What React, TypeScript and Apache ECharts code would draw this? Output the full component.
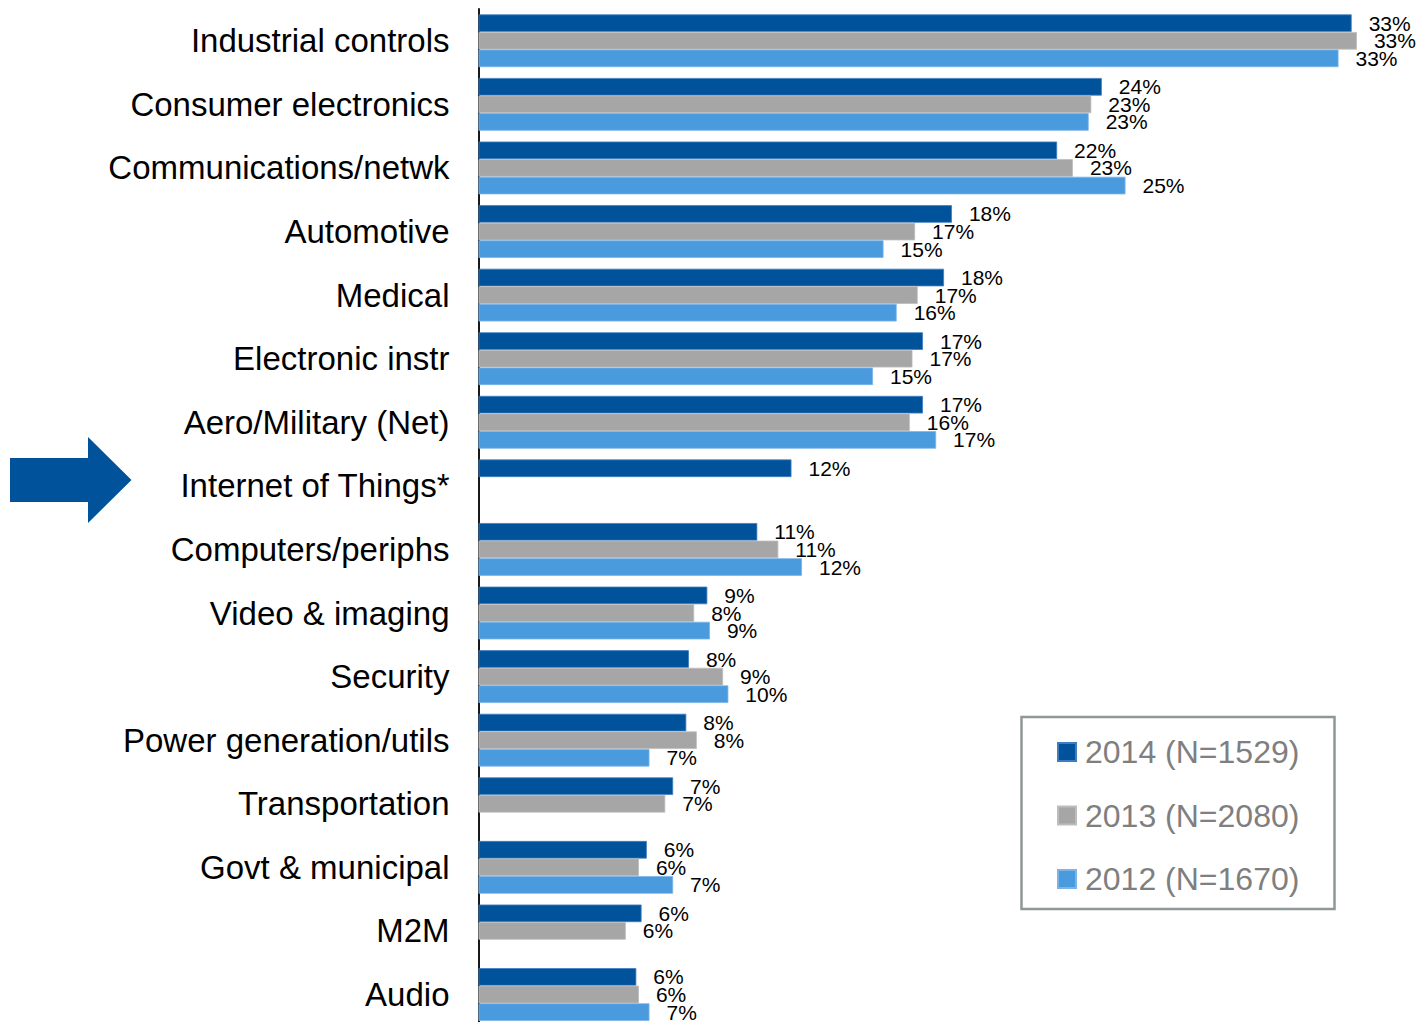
import React, { useEffect, useRef } from "react";
import * as echarts from "echarts";

// Application areas, listed top to bottom
const categories = [
  "Industrial controls",
  "Consumer electronics",
  "Communications/netwk",
  "Automotive",
  "Medical",
  "Electronic instr",
  "Aero/Military (Net)",
  "Internet of Things*",
  "Computers/periphs",
  "Video & imaging",
  "Security",
  "Power generation/utils",
  "Transportation",
  "Govt & municipal",
  "M2M",
  "Audio",
];

// Share of respondents (%) per survey year; null = not asked that year
const values2014 = [33.2, 23.7, 22.0, 18.0, 17.7, 16.9, 16.9, 11.9, 10.6, 8.7, 8.0, 7.9, 7.4, 6.4, 6.2, 6.0];
const values2013 = [33.4, 23.3, 22.6, 16.6, 16.7, 16.5, 16.4, null, 11.4, 8.2, 9.3, 8.3, 7.1, 6.1, 5.6, 6.1];
const values2012 = [32.7, 23.2, 24.6, 15.4, 15.9, 15.0, 17.4, null, 12.3, 8.8, 9.5, 6.5, null, 7.4, null, 6.5];

const seriesNames = ["2014 (N=1529)", "2013 (N=2080)", "2012 (N=1670)"];
const seriesColors = ["#00539b", "#a6a6a6", "#4a9ade"];
const seriesBorders = ["#3f7cc0", "#bdbdbd", "#7cb4e8"];

const FONT = "'Liberation Sans', Arial, sans-serif";

export default function App() {
  const ref = useRef<HTMLDivElement>(null);

  useEffect(() => {
    if (!ref.current) return;
    const chart = echarts.init(ref.current, null, { renderer: "svg" });
    const dataSets = [values2014, values2013, values2012];

    chart.setOption({
      animation: false,
      backgroundColor: "#ffffff",
      grid: {
        left: 478.5,
        top: 9,
        width: 920.5,
        height: 1017.3,
        containLabel: false,
        outerBoundsMode: "none",
      },
      xAxis: {
        type: "value",
        min: 0,
        max: 35,
        show: false,
        splitLine: { show: false },
      },
      yAxis: {
        type: "category",
        inverse: true,
        data: categories,
        axisTick: { show: false },
        axisLine: { show: true, lineStyle: { color: "#000000", width: 1.8 } },
        axisLabel: {
          color: "#000000",
          fontFamily: FONT,
          fontSize: 33,
          margin: 29,
        },
      },
      legend: {
        orient: "vertical",
        left: 1052,
        top: 729,
        itemWidth: 18,
        itemHeight: 18,
        itemGap: 27.5,
        icon: "rect",
        data: seriesNames,
        textStyle: {
          color: "#7f7f7f",
          fontFamily: FONT,
          fontSize: 32,
          lineHeight: 36,
          padding: [0, 0, 0, 4],
        },
      },
      graphic: [
        {
          type: "rect",
          z: 0,
          shape: { x: 1021.5, y: 717, width: 313, height: 192 },
          style: { fill: "#ffffff", stroke: "#8e9898", lineWidth: 2.5 },
        },
        {
          type: "polygon",
          shape: {
            points: [
              [10, 458],
              [88, 458],
              [88, 437],
              [131.5, 480],
              [88, 523],
              [88, 502],
              [10, 502],
            ],
          },
          style: { fill: "#00539b" },
        },
      ],
      series: dataSets.map((d, i) => ({
        name: seriesNames[i],
        type: "bar",
        data: d,
        barGap: "0%",
        barCategoryGap: "17%",
        itemStyle: { color: seriesColors[i], borderColor: seriesBorders[i], borderWidth: 0.8 },
        label: {
          show: true,
          position: "right",
          distance: 17,
          color: "#000000",
          fontFamily: FONT,
          fontSize: 21,
          formatter: (p: any) => `${Math.round(p.value)}%`,
        },
      })),
    });

    return () => chart.dispose();
  }, []);

  return (
    <div
      ref={ref}
      style={{ position: "fixed", left: 0, top: 0, width: 1421, height: 1022, background: "#fff" }}
    />
  );
}
